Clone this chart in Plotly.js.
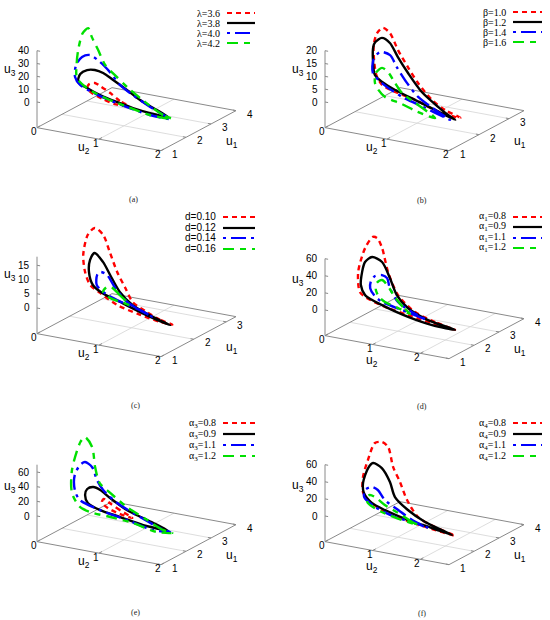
<!DOCTYPE html>
<html><head><meta charset="utf-8">
<script src="https://cdn.plot.ly/plotly-3.0.1.min.js"></script>
<style>html,body{margin:0;padding:0;background:#fff}</style>
</head><body><div id="chart" style="width:550px;height:620px"></div>
<script>
// ---- data: each panel holds 4 closed orbits [red, black, blue, green] in (u1, u2, u3)
const lamLabels = ['λ=3.6','λ=3.8','λ=4.0','λ=4.2'];
const lamU1 = [
 [1.60,1.66,1.75,1.84,1.90,1.90,1.87,1.81,1.72,1.63,1.60],
 [1.45,1.51,1.60,1.72,1.84,1.96,2.05,2.11,2.11,2.05,1.96,1.81,1.66,1.54,1.48,1.45],
 [1.42,1.48,1.54,1.63,1.75,1.90,2.08,2.32,2.38,2.29,2.20,2.08,1.84,1.60,1.42,1.42],
 [1.45,1.48,1.54,1.63,1.78,1.96,2.14,2.38,2.62,2.80,2.68,2.50,2.44,2.35,2.20,1.90,1.66,1.42,1.45]];
const lamU2 = [
 [1.23,1.07,0.88,0.68,0.57,0.48,0.46,0.56,0.77,1.00,1.23],
 [1.93,1.67,1.42,1.16,0.89,0.68,0.51,0.36,0.25,0.24,0.42,0.69,1.02,1.33,1.63,1.93],
 [1.98,1.79,1.56,1.29,1.04,0.81,0.58,0.32,0.17,0.11,0.13,0.26,0.68,1.21,1.65,1.98],
 [2.00,1.84,1.65,1.41,1.14,0.87,0.64,0.43,0.23,0.10,0.06,0.06,0.06,0.10,0.32,0.70,1.19,1.65,2.00]];
const lamU3 = [
 [1.6,3.5,7.1,9.8,10.6,9.0,5.9,3.6,1.8,0.8,1.6],
 [0.9,5.0,8.0,12.3,16.4,18.7,18.6,16.6,12.5,6.8,4.7,3.2,2.3,1.6,1.0,0.9],
 [0.1,2.5,6.0,10.5,14.7,21.4,25.2,25.8,22.3,16.4,8.2,4.4,2.0,0.7,0.3,0.1],
 [0.0,1.3,4.5,9.2,13.8,18.8,22.7,30.0,36.0,39.8,36.8,25.6,16.0,5.6,1.3,0.8,0.0,0.3,0.0]];

const betLabels = ['β=1.0','β=1.2','β=1.4','β=1.6'];
const betU1 = [
 [1.38,1.40,1.45,1.60,1.80,2.05,2.50,2.70,2.55,2.50,2.45,2.38,2.20,1.95,1.68,1.50,1.40,1.38],
 [1.25,1.30,1.38,1.50,1.68,1.88,2.13,2.38,2.43,2.40,2.35,2.25,2.10,1.85,1.60,1.40,1.25],
 [1.20,1.33,1.48,1.63,1.80,1.95,2.15,2.18,2.10,1.95,1.65,1.38,1.20],
 [1.20,1.30,1.40,1.55,1.68,1.80,1.93,1.95,1.90,1.83,1.70,1.45,1.30,1.20]];
const betU2 = [
 [2.00,1.74,1.51,1.21,0.95,0.67,0.32,0.11,0.09,0.06,0.09,0.16,0.34,0.67,1.13,1.53,1.90,2.00],
 [1.98,1.84,1.64,1.32,1.01,0.75,0.50,0.25,0.12,0.10,0.12,0.20,0.39,0.72,1.16,1.58,1.98],
 [1.92,1.62,1.27,1.02,0.77,0.59,0.33,0.21,0.24,0.46,0.93,1.43,1.92],
 [1.68,1.47,1.26,0.98,0.80,0.63,0.47,0.36,0.37,0.46,0.63,1.02,1.35,1.68]];
const betU3 = [
 [0.4,2.2,4.7,9.1,12.9,16.7,19.0,18.8,17.6,13.2,7.7,2.7,0.7,1.0,1.6,0.6,0.2,0.4],
 [0.3,1.3,3.1,6.7,11.6,15.4,18.2,17.5,15.0,13.1,8.5,3.6,2.7,2.6,2.3,1.5,0.3],
 [0.4,2.1,4.7,8.0,12.1,15.0,13.8,10.0,5.5,3.5,2.1,1.8,0.4],
 [0.0,1.6,2.8,4.4,6.8,9.5,9.6,7.0,3.5,1.6,0.4,1.0,0.3,0.0]];

const dLabels = ['d=0.10','d=0.12','d=0.14','d=0.16'];
const dU1 = [
 [1.35,1.37,1.41,1.48,1.58,1.69,1.92,2.50,2.66,2.52,2.38,2.38,2.29,2.06,1.76,1.51,1.37,1.35],
 [1.32,1.39,1.48,1.60,1.76,1.92,2.10,2.15,2.10,2.01,1.87,1.67,1.48,1.37,1.32],
 [1.41,1.46,1.58,1.69,1.83,1.97,1.99,1.94,1.81,1.62,1.48,1.41],
 [1.62,1.71,1.78,1.83,1.83,1.76,1.67,1.62]];
const dU2 = [
 [2.00,1.79,1.56,1.29,1.12,0.93,0.69,0.28,0.06,0.02,0.02,0.05,0.18,0.46,0.89,1.40,1.79,2.00],
 [1.98,1.67,1.29,1.02,0.78,0.58,0.35,0.25,0.26,0.37,0.60,0.99,1.41,1.74,1.98],
 [1.65,1.47,1.15,0.90,0.69,0.51,0.45,0.47,0.71,1.06,1.41,1.65],
 [1.17,0.96,0.81,0.69,0.63,0.78,1.04,1.17]];
const dU3 = [
 [0.1,0.8,2.3,4.4,8.0,12.2,16.8,17.6,18.2,16.5,10.3,4.4,0.9,0.7,0.04,0.1,0.1,0.1],
 [0.0,1.2,3.3,6.1,10.1,12.9,14.0,10.8,6.9,3.4,2.3,2.0,1.3,0.6,0.0],
 [1.0,1.7,3.2,6.4,9.4,8.8,7.4,4.2,2.5,2.3,2.0,1.0],
 [2.0,4.1,5.5,5.1,3.1,2.0,1.9,2.0]];

const a1Labels = ['α<sub>1</sub>=0.8','α<sub>1</sub>=0.9','α<sub>1</sub>=1.1','α<sub>1</sub>=1.2'];
const a1U1 = [
 [1.24,1.36,1.51,1.69,1.96,2.35,2.71,2.80,2.59,2.29,2.26,2.08,1.75,1.51,1.33,1.24],
 [1.24,1.36,1.51,1.66,1.84,2.08,2.35,2.41,2.35,2.32,2.20,2.05,1.75,1.48,1.24,1.24],
 [1.36,1.48,1.63,1.78,1.90,2.02,2.14,2.17,2.14,2.05,1.93,1.66,1.42,1.36],
 [1.60,1.69,1.81,1.93,2.02,2.08,2.08,2.02,1.93,1.75,1.60]];
const a1U2 = [
 [2.60,2.12,1.62,1.17,0.82,0.49,0.20,0.06,0.01,0.02,0.07,0.31,0.87,1.47,2.07,2.60],
 [2.60,1.97,1.47,1.16,0.92,0.63,0.28,0.10,0.07,0.06,0.21,0.43,0.93,1.49,2.12,2.60],
 [1.95,1.57,1.20,0.95,0.83,0.66,0.45,0.35,0.35,0.49,0.71,1.27,1.81,1.95],
 [1.47,1.27,1.04,0.83,0.66,0.52,0.50,0.60,0.77,1.14,1.47]];
const a1U3 = [
 [0.0,2.2,6.4,18.8,37.8,56.4,59.4,58.0,48.0,24.6,2.2,0.5,0.8,1.4,1.1,0.0],
 [0.0,3.0,9.6,19.2,33.9,45.8,43.8,35.2,24.0,9.3,1.0,0.0,0.2,0.0,0.6,0.0],
 [2.9,6.4,12.0,23.4,31.8,31.8,26.6,19.2,11.4,5.2,2.2,2.8,2.9,2.9],
 [1.2,6.0,13.3,22.2,26.0,20.1,11.8,5.5,2.8,2.4,1.2]];

const a3Labels = ['α<sub>3</sub>=0.8','α<sub>3</sub>=0.9','α<sub>3</sub>=1.1','α<sub>3</sub>=1.2'];
const a3U1 = [
 [1.66,1.78,1.90,1.96,1.96,1.87,1.75,1.66],
 [1.42,1.54,1.69,1.84,1.99,2.11,2.14,2.08,1.99,1.81,1.60,1.48,1.42],
 [1.42,1.45,1.60,1.78,1.96,2.11,2.29,2.50,2.50,2.41,2.29,2.14,1.84,1.57,1.42,1.42],
 [1.45,1.45,1.54,1.69,1.87,2.02,2.26,2.56,2.89,2.71,2.35,2.20,1.90,1.75,1.60,1.48,1.30,1.45]];
const a3U2 = [
 [1.27,1.02,0.81,0.69,0.66,0.79,1.04,1.27],
 [1.93,1.56,1.17,0.84,0.62,0.46,0.35,0.34,0.42,0.69,1.10,1.52,1.93],
 [1.98,1.80,1.42,0.98,0.68,0.52,0.37,0.17,0.09,0.04,0.09,0.23,0.68,1.22,1.70,1.98],
 [2.00,1.85,1.56,1.17,0.83,0.60,0.43,0.26,0.01,0.01,0.02,0.08,0.33,0.55,0.94,1.35,1.81,2.00]];
const a3U3 = [
 [5.2,10.1,14.0,16.7,11.9,7.5,5.3,5.2],
 [3.5,9.1,14.0,22.4,27.2,26.5,21.6,14.4,6.4,4.2,4.9,2.7,3.5],
 [1.4,3.7,9.9,18.9,28.7,37.1,49.0,49.0,43.7,30.8,13.3,4.8,3.5,3.4,0.0,1.4],
 [0.0,1.8,9.1,18.2,28.7,35.7,50.4,69.9,73.5,70.0,38.5,10.9,1.1,0.5,2.5,3.0,1.2,0.0]];

const a4Labels = ['α<sub>4</sub>=0.8','α<sub>4</sub>=0.9','α<sub>4</sub>=1.1','α<sub>4</sub>=1.2'];
const a4U1 = [
 [1.24,1.36,1.48,1.63,1.90,2.20,2.65,2.86,2.92,2.68,2.50,2.44,2.32,1.84,1.51,1.30,1.24],
 [1.24,1.42,1.57,1.72,1.90,2.11,2.35,2.44,2.35,2.29,2.11,1.87,1.54,1.33,1.24],
 [1.39,1.51,1.66,1.81,1.93,2.05,2.14,2.11,1.90,1.63,1.45,1.39],
 [1.45,1.51,1.66,1.81,1.93,1.99,1.99,1.93,1.75,1.54,1.45]];
const a4U2 = [
 [2.60,2.12,1.70,1.39,1.10,0.80,0.46,0.22,0.04,0.02,0.01,0.04,0.21,0.82,1.47,2.09,2.60],
 [2.54,1.88,1.44,1.09,0.89,0.61,0.30,0.15,0.09,0.14,0.40,0.80,1.46,2.07,2.54],
 [1.96,1.56,1.19,0.83,0.62,0.43,0.24,0.24,0.58,1.14,1.65,1.96],
 [1.71,1.56,1.19,0.83,0.56,0.42,0.36,0.41,0.80,1.33,1.71]];
const a4U3 = [
 [0.0,3.4,8.9,23.3,37.2,46.8,59.6,59.8,55.8,39.6,22.2,6.0,0.3,0.0,1.4,1.7,0.0],
 [0.3,5.8,13.0,22.2,35.0,45.1,44.0,35.2,18.5,8.2,2.1,1.7,2.0,2.2,0.3],
 [0.1,3.5,9.0,14.7,22.3,22.0,15.0,7.4,2.5,0.8,1.9,0.1],
 [0.2,1.2,5.5,8.9,13.6,13.5,10.5,5.0,1.3,0.7,0.2]];

// ---- styling / view (gnuplot-like 3-D view, orthographic)
const colors = ['#ff0000','#000000','#0000ff','#00e000'];
const dashes = ['5px,4px','solid','3px,5px,15px,5px','11px,6px,6px,6px'];
const W = 550, H = 620;
const SANS = 'Liberation Sans, Arial, sans-serif';
const SERIF = 'Liberation Serif, Times New Roman, serif';
const VX2 = [124, 23], VX1 = [75, -40], VZ = 51.3;   // screen vectors of full u2, u1 and u3 (0..top) spans

const panels = [
 {u1:lamU1,u2:lamU2,u3:lamU3,labels:lamLabels,U:[0,2],  L:[1,4],  Z:40, Ox:37,Oz0:102,xt:[0,1,2],yt:[1,2,3,4],zt:[0,10,20,30,40],u3t:25,  u2dy:12, leg:{tr:222,l0:227,l1:255,rows:[13,23,33,43]},font:SERIF,cap:'(a)',capx:133,capy:199,dx:[0,0.5],dy:[1-205/620,1],ph:205},
 {u1:betU1,u2:betU2,u3:betU3,labels:betLabels,U:[0,2],  L:[1,3.5],Z:20, Ox:50,Oz0:102,xt:[0,1,2],yt:[1,2,3],  zt:[0,5,10,15,20],  u3t:12.5,u2dy:12, leg:{tr:233,l0:238,l1:267,rows:[12,22,32,42]},font:SERIF,cap:'(b)',capx:147,capy:200,dx:[0.5,1],dy:[1-205/620,1],ph:205},
 {u1:dU1,  u2:dU2,  u3:dU3,  labels:dLabels,  U:[0,2],  L:[1,3.3],Z:18, Ox:37,Oz0:103,xt:[0,1,2],yt:[1,2,3],  zt:[0,5,10,15],     u3t:11.5,u2dy:12, leg:{tr:218,l0:223,l1:255,rows:[12,23,33,44]},font:SANS, cap:'(c)',capx:135,capy:201,dx:[0,0.5],dy:[1-410/620,1-205/620],ph:205},
 {u1:a1U1, u2:a1U2, u3:a1U3, labels:a1Labels, U:[0,2.6],L:[1,4],  Z:60, Ox:50,Oz0:105,xt:[0,1,2],yt:[1,2,3,4],zt:[0,20,40,60],    u3t:35,  u2dy:17, leg:{tr:233,l0:238,l1:267,rows:[12,22,33,43]},font:SERIF,cap:'(d)',capx:147,capy:202,dx:[0.5,1],dy:[1-410/620,1-205/620],ph:205},
 {u1:a3U1, u2:a3U2, u3:a3U3, labels:a3Labels, U:[0,2],  L:[1,4],  Z:70, Ox:37,Oz0:106,xt:[0,1,2],yt:[1,2,3,4],zt:[0,20,40,60],    u3t:40,  u2dy:12, leg:{tr:218,l0:223,l1:255,rows:[13,24,35,46]},font:SERIF,cap:'(e)',capx:135,capy:202,dx:[0,0.5],dy:[0,1-410/620],ph:210},
 {u1:a4U1, u2:a4U2, u3:a4U3, labels:a4Labels, U:[0,2.6],L:[1,4],  Z:60, Ox:50,Oz0:106,xt:[0,1,2],yt:[1,2,3,4],zt:[0,20,40,60],    u3t:35,  u2dy:17, leg:{tr:233,l0:238,l1:267,rows:[13,24,35,46]},font:SERIF,cap:'(f)',capx:147,capy:203,dx:[0.5,1],dy:[0,1-410/620],ph:210}
];

function proj(p, u1, u2, u3) {
  const n2 = (u2 - p.U[0]) / (p.U[1] - p.U[0]);
  const n1 = (u1 - p.L[0]) / (p.L[1] - p.L[0]);
  const n3 = u3 / p.Z;
  return [p.Ox + VX2[0]*n2 + VX1[0]*n1, p.Oz0 + VX2[1]*n2 + VX1[1]*n1 - VZ*n3];
}

const traces = [];
const layout = {
  width: W, height: H, margin: {l:0, r:0, t:0, b:0},
  paper_bgcolor: '#fff', plot_bgcolor: 'rgba(0,0,0,0)', showlegend: false, hovermode: false,
  annotations: [], shapes: []
};

panels.forEach((p, k) => {
  const sfx = k === 0 ? '' : String(k + 1);
  const xa = 'x' + sfx, ya = 'y' + sfx;
  layout['xaxis' + sfx] = {domain: p.dx, range: [0, 275], visible: false, fixedrange: true};
  layout['yaxis' + sfx] = {domain: p.dy, range: [p.ph, 0], visible: false, fixedrange: true};
  const zb = -p.Z / 2;
  const [L0, L1] = p.L, [U0, U1] = p.U;
  const seg = (a, b, xs, ys) => { xs.push(a[0], b[0], null); ys.push(a[1], b[1], null); };

  // base-plane grid
  const gx = [], gy = [];
  p.xt.filter(t => t > U0 && t < U1).forEach(t => seg(proj(p, L0, t, zb), proj(p, L1, t, zb), gx, gy));
  p.yt.filter(t => t > L0 && t < L1).forEach(t => seg(proj(p, t, U0, zb), proj(p, t, U1, zb), gx, gy));
  traces.push({type:'scatter', mode:'lines', xaxis:xa, yaxis:ya, x:gx, y:gy, line:{color:'#d4d4d4', width:0.8}, hoverinfo:'skip'});

  // base frame, z axis and ticks
  const fx = [], fy = [];
  const O = proj(p, L0, U0, zb), F = proj(p, L0, U1, zb), R = proj(p, L1, U1, zb), B = proj(p, L1, U0, zb);
  [O, F, R, B, O].forEach(q => { fx.push(q[0]); fy.push(q[1]); });
  fx.push(null); fy.push(null);
  seg(O, proj(p, L0, U0, p.Z), fx, fy);
  p.zt.forEach(t => seg(proj(p, L0, U0, t), proj(p, L0, U0 + 0.025*(U1-U0), t), fx, fy));
  p.xt.forEach(t => seg(proj(p, L0, t, zb), proj(p, L0 + 0.04*(L1-L0), t, zb), fx, fy));
  p.yt.forEach(t => seg(proj(p, t, U1, zb), proj(p, t, U1 - 0.025*(U1-U0), zb), fx, fy));
  traces.push({type:'scatter', mode:'lines', xaxis:xa, yaxis:ya, x:fx, y:fy, line:{color:'#8a8a8a', width:1}, hoverinfo:'skip'});

  // orbits
  for (let i = 0; i < 4; i++) {
    const xs = [], ys = [];
    p.u1[i].forEach((v, j) => { const q = proj(p, v, p.u2[i][j], p.u3[i][j]); xs.push(q[0]); ys.push(q[1]); });
    traces.push({type:'scatter', mode:'lines', xaxis:xa, yaxis:ya, name:p.labels[i], x:xs, y:ys,
      line:{color:colors[i], width:2.4, dash:dashes[i], shape:'spline', smoothing:0.8}, hoverinfo:'skip'});
  }

  const ann = (x, y, text, opt) => layout.annotations.push(Object.assign({
    xref: xa, yref: ya, x: x, y: y, text: text, showarrow: false,
    xanchor: 'center', yanchor: 'middle', font: {family: SANS, size: 10, color: '#000'}}, opt || {}));
  const tfont = {family: SANS, size: 12, color: '#000'};

  // tick labels
  p.zt.forEach(t => ann(p.Ox - 5, proj(p, L0, U0, t)[1], String(t), {xanchor: 'right'}));
  p.xt.forEach(t => { const q = proj(p, L0, t, zb); ann(q[0] - 3, q[1] + 4, String(t)); });
  p.yt.forEach(t => { const q = proj(p, t, U1, zb); ann(q[0] + 14, q[1] + 3.5, String(t)); });
  // axis titles
  { const q = proj(p, L0, U0 + 0.38*(U1-U0), zb); ann(q[0], q[1] + p.u2dy, 'u<sub>2</sub>', {font: tfont}); }
  { const q = proj(p, L0 + 0.5*(L1-L0), U1, zb); ann(q[0] + 33, q[1] + 11, 'u<sub>1</sub>', {font: tfont}); }
  ann(p.Ox - 19, proj(p, L0, U0, p.u3t)[1], 'u<sub>3</sub>', {xanchor: 'right', font: tfont});

  // key
  p.leg.rows.forEach((ry, i) => {
    ann(p.leg.tr, ry, p.labels[i], {xanchor: 'right', font: {family: p.font, size: 10, color: '#000'}});
    layout.shapes.push({type:'line', xref: xa, yref: ya, x0: p.leg.l0, x1: p.leg.l1, y0: ry, y1: ry,
      line: {color: colors[i], width: 2.2, dash: dashes[i]}});
  });
  // caption
  ann(p.capx, p.capy, p.cap, {font: {family: SERIF, size: 8, color: '#222'}});
});

Plotly.newPlot('chart', traces, layout, {displayModeBar: false, staticPlot: true});
</script></body></html>
